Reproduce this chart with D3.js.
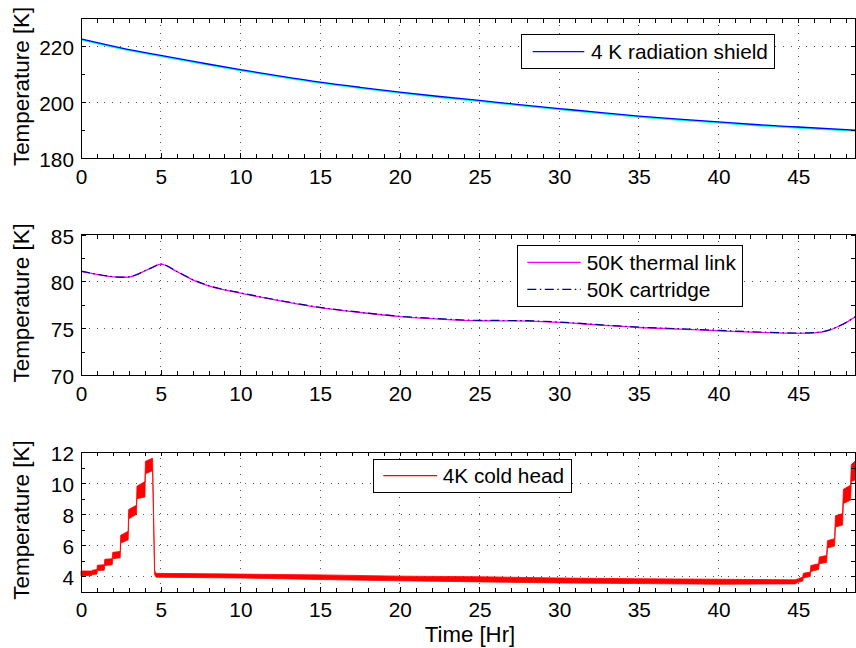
<!DOCTYPE html>
<html>
<head>
<meta charset="utf-8">
<script src="https://cdn.jsdelivr.net/npm/d3@7"></script>
<style>
  body { margin: 0; background: #fff; }
  text { font-family: "Liberation Sans", Arial, Helvetica, sans-serif; fill: #000; }
</style>
</head>
<body>
<svg id="fig" width="856" height="648"></svg>
<script>
// ---- 4 K radiation shield (three sensors on the shield) ----
const shieldTime  = [0, 2.5, 5, 7.5, 10, 12.5, 15, 17.5, 20, 22.5, 25, 27.5, 30, 32.5, 35, 37.5, 40, 42.5, 45, 48.56];
const shieldTemp  = [222.7, 219.5, 216.8, 214.2, 211.7, 209.4, 207.25, 205.4, 203.7, 202.1, 200.7, 199.2, 197.8, 196.4, 195.1, 194.0, 193.0, 192.0, 191.2, 190.1];
const shieldTemp2 = [222.45, 219.25, 216.55, 213.95, 211.45, 209.15, 207.0, 205.15, 203.45, 201.85, 200.45, 198.95, 197.55, 196.15, 194.85, 193.75, 192.75, 191.75, 190.95, 189.85];
const shieldTemp3 = [222.3, 219.1, 216.4, 213.8, 211.3, 209.0, 206.85, 205.0, 203.3, 201.7, 200.3, 198.8, 197.4, 196.0, 194.7, 193.6, 192.6, 191.6, 190.8, 189.7];

// ---- 50 K stage ----
const linkTime      = [0, 1, 2, 2.5, 3, 3.5, 4, 4.5, 5, 6, 7, 8, 10, 12.5, 15, 17.5, 20, 22, 25, 27.5, 30, 32.5, 35, 37.5, 40, 42.5, 45, 46, 47, 47.5, 48, 48.56];
const linkTemp      = [81.07, 80.75, 80.5, 80.45, 80.47, 80.72, 81.12, 81.5, 81.85, 81.07, 80.18, 79.54, 78.76, 77.93, 77.2, 76.68, 76.25, 76.03, 75.8, 75.78, 75.62, 75.34, 75.08, 74.91, 74.73, 74.56, 74.45, 74.5, 74.82, 75.18, 75.6, 76.2];
const cartridgeTemp = [81.1, 80.78, 80.52, 80.47, 80.49, 80.74, 81.14, 81.52, 81.87, 81.1, 80.21, 79.57, 78.79, 77.96, 77.23, 76.71, 76.28, 76.06, 75.84, 75.82, 75.66, 75.38, 75.12, 74.95, 74.77, 74.6, 74.49, 74.53, 74.84, 75.2, 75.62, 76.22];

// ---- 4K cold head: envelope of the fast cooler oscillation ----
const coldTime = [0, 0.66, 0.72, 1.0, 1.03, 1.46, 1.49, 1.96, 1.99, 2.46, 2.49, 2.96, 2.99, 3.48, 3.51, 4.01, 4.04, 4.49, 4.62, 4.72, 10, 15, 20, 25, 30, 35, 40, 44.8, 45.0, 45.28, 45.32, 45.75, 45.79, 46.28, 46.32, 46.78, 46.83, 47.28, 47.33, 47.78, 47.83, 48.28, 48.33, 48.56];
const coldLow  = [4.05, 4.05, 4.12, 4.15, 4.38, 4.4, 4.7, 4.75, 5.14, 5.2, 6.15, 6.35, 7.7, 8.0, 9.0, 9.1, 10.6, 10.8, 4.1, 3.95, 3.9, 3.8, 3.72, 3.65, 3.58, 3.54, 3.5, 3.52, 3.62, 3.7, 3.9, 4.0, 4.32, 4.45, 4.82, 4.9, 5.83, 5.95, 7.18, 7.3, 8.69, 8.9, 10.1, 10.2];
const coldHigh = [4.35, 4.35, 4.4, 4.45, 4.72, 4.75, 5.1, 5.14, 5.55, 5.61, 6.65, 6.9, 8.3, 8.58, 9.8, 10.1, 11.4, 11.6, 4.35, 4.2, 4.15, 4.1, 4.02, 3.98, 3.9, 3.85, 3.82, 3.78, 3.85, 3.96, 4.2, 4.28, 4.7, 4.82, 5.25, 5.35, 6.3, 6.43, 7.9, 8.04, 9.6, 9.87, 11.2, 11.4];

// ---- axes ----
const timeDomain   = [0, 48.56];
const timeTicks    = [0, 5, 10, 15, 20, 25, 30, 35, 40, 45];
const timeMinor    = d3.range(1, 49).filter(v => v % 5 !== 0);
const shieldTicks  = [180, 200, 220];
const shieldMinor  = [190, 210];
const stageTicks   = [70, 75, 80, 85];
const stageMinor   = [72.5, 77.5, 82.5];
const coldTicks    = [4, 6, 8, 10, 12];
const coldMinor    = [5, 7, 9, 11];

const yLabel = "Temperature [K]";
const xLabel = "Time [Hr]";

// ---- layout ----
const FS = 20.8, LFS = 22.4;
const left = 81, right = 855;
const svg = d3.select("#fig");

const panels = [
  { top: 18.5, bottom: 158.3, domain: [180, 230], ticks: shieldTicks, minor: shieldMinor, pad: 11.4 },
  { top: 234.7, bottom: 375, domain: [70, 85], ticks: stageTicks, minor: stageMinor, pad: 11.4 },
  { top: 452, bottom: 592, domain: [3, 12], ticks: coldTicks, minor: coldMinor, pad: 10.2 }
];

const x = d3.scaleLinear().domain(timeDomain).range([left, right]);

function drawFrame(p) {
  const y = d3.scaleLinear().domain(p.domain).range([p.bottom, p.top]);
  const g = svg.append("g");

  // dotted grid at the major ticks
  const grid = g.append("g").attr("stroke", "#555").attr("stroke-width", 1)
    .attr("stroke-dasharray", "1,6.8").attr("shape-rendering", "crispEdges");
  timeTicks.filter(v => v > timeDomain[0]).forEach(v => {
    grid.append("line").attr("x1", x(v)).attr("x2", x(v))
      .attr("y1", p.bottom).attr("y2", p.top);
  });
  p.ticks.filter(v => v > p.domain[0] && v < p.domain[1]).forEach(v => {
    grid.append("line").attr("x1", left).attr("x2", right)
      .attr("y1", y(v)).attr("y2", y(v));
  });
  return { g, y };
}

function drawAxes(p, y, withXLabel) {
  const g = svg.append("g");
  const styleAxis = sel => {
    sel.select(".domain").remove();
    sel.selectAll("line").attr("stroke", "#000").attr("stroke-width", 1).attr("shape-rendering", "crispEdges");
    sel.selectAll("text").attr("font-size", FS).attr("fill", "#000")
      .style("font-family", "'Liberation Sans', Arial, sans-serif");
  };
  // bottom axis with labels
  g.append("g").attr("transform", `translate(0,${p.bottom})`)
    .call(d3.axisBottom(x).tickValues(timeTicks).tickFormat(d3.format("d"))
      .tickSizeInner(-5).tickSizeOuter(0).tickPadding(p.pad))
    .call(styleAxis);
  g.append("g").attr("transform", `translate(0,${p.bottom})`)
    .call(d3.axisBottom(x).tickValues(timeMinor).tickFormat("").tickSizeInner(-4).tickSizeOuter(0))
    .call(styleAxis);
  // top mirror
  g.append("g").attr("transform", `translate(0,${p.top})`)
    .call(d3.axisTop(x).tickValues(timeTicks.concat(timeMinor)).tickFormat("").tickSizeInner(-4).tickSizeOuter(0))
    .call(styleAxis);
  // left axis with labels
  g.append("g").attr("transform", `translate(${left},0)`)
    .call(d3.axisLeft(y).tickValues(p.ticks).tickFormat(d3.format("d"))
      .tickSizeInner(-5).tickSizeOuter(0).tickPadding(7))
    .call(styleAxis)
    .call(s => s.selectAll("text").attr("dy", "0.4em"));
  g.append("g").attr("transform", `translate(${left},0)`)
    .call(d3.axisLeft(y).tickValues(p.minor).tickFormat("").tickSizeInner(-4).tickSizeOuter(0))
    .call(styleAxis);
  // right mirror
  g.append("g").attr("transform", `translate(${right},0)`)
    .call(d3.axisRight(y).tickValues(p.ticks.concat(p.minor)).tickFormat("").tickSizeInner(-4).tickSizeOuter(0))
    .call(styleAxis);

  // box
  g.append("rect").attr("x", left).attr("y", p.top)
    .attr("width", right - left).attr("height", p.bottom - p.top)
    .attr("fill", "none").attr("stroke", "#000").attr("stroke-width", 1)
    .attr("shape-rendering", "crispEdges");

  // y label
  const cy = (p.top + p.bottom) / 2 - 2;
  g.append("text").attr("transform", `translate(29,${cy}) rotate(-90)`)
    .attr("text-anchor", "middle").attr("font-size", LFS).text(yLabel);

  if (withXLabel) {
    g.append("text").attr("x", 470).attr("y", 641.6)
      .attr("text-anchor", "middle").attr("font-size", 22.2).text(xLabel);
  }
}

function legend(box, rows) {
  const g = svg.append("g");
  g.append("rect").attr("x", box.x).attr("y", box.y).attr("width", box.w).attr("height", box.h)
    .attr("fill", "#fff").attr("stroke", "#000").attr("stroke-width", 1).attr("shape-rendering", "crispEdges");
  rows.forEach(r => {
    g.append("line").attr("x1", box.lx1).attr("x2", box.lx2).attr("y1", r.y).attr("y2", r.y)
      .attr("stroke", r.color).attr("stroke-width", r.width || 1.2)
      .attr("stroke-dasharray", r.dash || null);
    g.append("text").attr("x", box.tx).attr("y", r.y + 7.5).attr("font-size", FS).text(r.label);
  });
}

// ---- panel 1: radiation shield ----
{
  const p = panels[0];
  const { g, y } = drawFrame(p);
  const line = d3.line().x(d => x(d[0])).y(d => y(d[1])).curve(d3.curveMonotoneX);
  g.append("path").datum(d3.zip(shieldTime, shieldTemp3)).attr("d", line)
    .attr("fill", "none").attr("stroke", "#33ff99").attr("stroke-width", 1.1);
  g.append("path").datum(d3.zip(shieldTime, shieldTemp2)).attr("d", line)
    .attr("fill", "none").attr("stroke", "#00ffff").attr("stroke-width", 1.1);
  g.append("path").datum(d3.zip(shieldTime, shieldTemp)).attr("d", line)
    .attr("fill", "none").attr("stroke", "#0000ff").attr("stroke-width", 1.3);
  drawAxes(p, y, false);
  legend({ x: 521.5, y: 34.5, w: 252.5, h: 34, lx1: 532.7, lx2: 584.3, tx: 591 },
    [{ y: 51.7, color: "#0000ff", label: "4 K radiation shield" }]);
}

// ---- panel 2: 50 K stage ----
{
  const p = panels[1];
  const { g, y } = drawFrame(p);
  const line = d3.line().x(d => x(d[0])).y(d => y(d[1])).curve(d3.curveMonotoneX);
  g.append("path").datum(d3.zip(linkTime, linkTemp)).attr("d", line)
    .attr("fill", "none").attr("stroke", "#ff00ff").attr("stroke-width", 1.3);
  g.append("path").datum(d3.zip(linkTime, cartridgeTemp)).attr("d", line)
    .attr("fill", "none").attr("stroke", "#00008b").attr("stroke-width", 1.2)
    .attr("stroke-dasharray", "9,3.5,1.5,3.5");
  drawAxes(p, y, false);
  legend({ x: 517.5, y: 245.5, w: 224.5, h: 60.5, lx1: 527.3, lx2: 580.7, tx: 586.7 },
    [{ y: 262.3, color: "#ff00ff", label: "50K thermal link" },
     { y: 289.3, color: "#00008b", dash: "9,3.5,1.5,3.5", label: "50K cartridge" }]);
}

// ---- panel 3: 4K cold head ----
{
  const p = panels[2];
  const { g, y } = drawFrame(p);
  const band = d3.area()
    .x((d, i) => x(coldTime[i]))
    .y0((d, i) => y(coldLow[i]))
    .y1((d, i) => y(coldHigh[i]));
  g.append("path").datum(coldTime).attr("d", band)
    .attr("fill", "#ff0000").attr("stroke", "#ff0000").attr("stroke-width", 0.8)
    .attr("stroke-linejoin", "round");
  drawAxes(p, y, true);
  legend({ x: 373.5, y: 459.5, w: 198, h: 33, lx1: 383.3, lx2: 437, tx: 442.7 },
    [{ y: 475.7, color: "#ff0000", label: "4K cold head" }]);
}
</script>
</body>
</html>
